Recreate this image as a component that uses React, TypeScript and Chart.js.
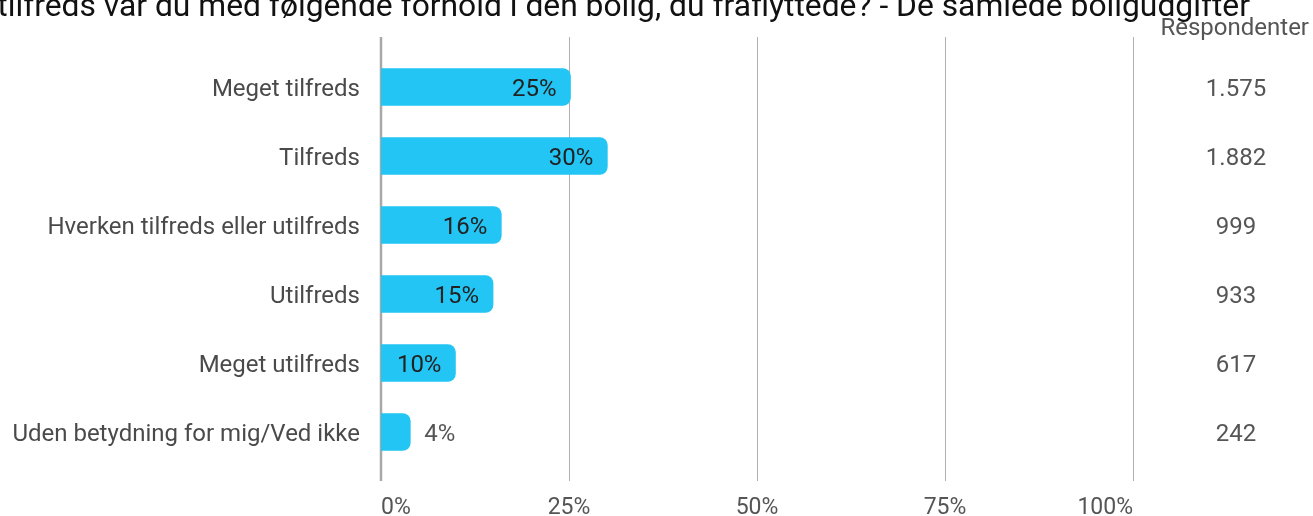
import React, { useEffect, useRef } from "react";
import { Chart, registerables } from "chart.js";

Chart.register(...registerables);

const TITLE = "Hvor tilfreds var du med følgende forhold i den bolig, du fraflyttede? - De samlede boligudgifter";
const categories = [
  "Meget tilfreds",
  "Tilfreds",
  "Hverken tilfreds eller utilfreds",
  "Utilfreds",
  "Meget utilfreds",
  "Uden betydning for mig/Ved ikke",
];
const percentValues = [25.2, 30.1, 16.0, 14.9, 9.9, 3.9];
const percentLabels = ["25%", "30%", "16%", "15%", "10%", "4%"];
const respondents = ["1.575", "1.882", "999", "933", "617", "242"];
const respondentsHeader = "Respondenter";
const xTicks = [0, 25, 50, 75, 100];

const FONT = "Roboto";
const BAR_COLOR = "rgb(34,197,244)";

export default function App() {
  const ref = useRef<HTMLCanvasElement | null>(null);

  useEffect(() => {
    if (!ref.current) return;

    const overlay = {
      id: "overlay",
      beforeDatasetsDraw(chart: any) {
        const { ctx } = chart;
        const xs = chart.scales.x;
        const top = 37;
        const bottom = 481;
        ctx.save();
        xTicks.forEach((v) => {
          const px = Math.round(xs.getPixelForValue(v));
          if (v === 0) {
            ctx.strokeStyle = "#a8a8a8";
            ctx.lineWidth = 2.5;
          } else {
            ctx.strokeStyle = "#b0b0b0";
            ctx.lineWidth = 1;
          }
          ctx.beginPath();
          const off = v === 0 ? 0 : 0.5;
          ctx.moveTo(px + off, top);
          ctx.lineTo(px + off, bottom);
          ctx.stroke();
        });
        ctx.restore();
      },
      afterDatasetsDraw(chart: any) {
        const { ctx } = chart;
        const ys = chart.scales.y;
        const meta = chart.getDatasetMeta(0);
        ctx.save();
        ctx.font = `24px ${FONT}`;
        ctx.textBaseline = "middle";
        meta.data.forEach((bar: any, i: number) => {
          const v = percentValues[i];
          if (v >= 8) {
            ctx.fillStyle = "#222222";
            ctx.textAlign = "right";
            ctx.fillText(percentLabels[i], bar.x - 14, bar.y + 2.5);
          } else {
            ctx.fillStyle = "#555555";
            ctx.textAlign = "left";
            ctx.fillText(percentLabels[i], bar.x + 14, bar.y + 2.5);
          }
        });
        // respondents column
        ctx.fillStyle = "#555555";
        ctx.textAlign = "center";
        respondents.forEach((r, i) => {
          ctx.fillText(r, 1236, ys.getPixelForValue(i) + 2.5);
        });
        ctx.font = `24px ${FONT}`;
        ctx.textAlign = "right";
        ctx.textBaseline = "alphabetic";
        ctx.fillText(respondentsHeader, 1309, 35);
        // title
        ctx.fillStyle = "#111111";
        ctx.font = `31.8px ${FONT}`;
        ctx.textAlign = "right";
        ctx.fillText(TITLE, 1250, 16);
        ctx.restore();
      },
    };

    const chart = new Chart(ref.current, {
      type: "bar",
      data: {
        labels: categories,
        datasets: [
          {
            data: percentValues,
            backgroundColor: BAR_COLOR,
            borderRadius: 8,
            borderSkipped: "start",
            barThickness: 37,
          },
        ],
      },
      options: {
        indexAxis: "y",
        animation: false,
        responsive: true,
        maintainAspectRatio: false,
        layout: { padding: { top: 52.5, right: 180, left: 0, bottom: 0 } },
        plugins: {
          legend: { display: false },
          tooltip: { enabled: false },
          title: { display: false },
        },
        scales: {
          x: {
            min: 0,
            max: 100,
            afterFit: (s: any) => {
              s.height = 49.5;
            },
            afterBuildTicks: (s: any) => {
              s.ticks = xTicks.map((v) => ({ value: v }));
            },
            grid: { display: false, drawTicks: false },
            border: { display: false },
            ticks: {
              padding: 28,
              align: "inner",
              color: "#555555",
              font: { family: FONT, size: 23 },
              callback: (v: any) => `${v}%`,
              maxRotation: 0,
            },
          },
          y: {
            afterFit: (s: any) => {
              s.width = 381;
            },
            grid: { display: false, drawTicks: false },
            border: { display: false },
            ticks: {
              padding: 21,
              labelOffset: 3,
              color: "#4a4a4a",
              font: { family: FONT, size: 24 },
            },
          },
        },
      },
      plugins: [overlay],
    });

    return () => chart.destroy();
  }, []);

  return (
    <div style={{ position: "fixed", left: 0, top: 0, width: 1313, height: 516, background: "#fff" }}>
      <canvas ref={ref} />
    </div>
  );
}
